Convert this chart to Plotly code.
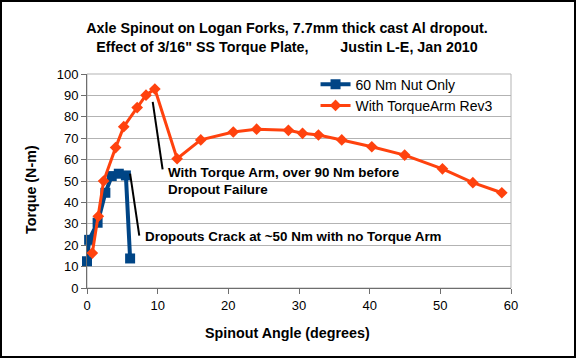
import plotly.graph_objects as go

# Data
nut_angle = [0.0, 0.3, 1.5, 2.6, 3.5, 4.5, 5.5, 6.1]
nut_torque = [12.5, 22.5, 30.5, 44.5, 52.3, 53.4, 52.6, 13.8]

arm_angle = [0.75, 1.6, 2.35, 4.05, 5.2, 7.1, 8.35, 9.6, 12.75, 16.1, 20.7, 24.0,
             28.5, 30.5, 32.75, 36.05, 40.3, 44.95, 50.3, 54.6, 58.7]
arm_torque = [16.3, 33.5, 50.0, 65.6, 75.4, 84.3, 90.1, 93.0, 60.4, 69.2, 72.9, 74.2,
              73.7, 72.3, 71.5, 69.2, 66.0, 62.1, 55.7, 49.2, 44.5]

series_names = ["60 Nm Nut Only", "With TorqueArm Rev3"]
x_ticks = [0, 10, 20, 30, 40, 50, 60]
y_ticks = [0, 10, 20, 30, 40, 50, 60, 70, 80, 90, 100]

title_lines = ["Axle Spinout on Logan Forks, 7.7mm thick cast Al dropout.",
               "Effect of 3/16\" SS Torque Plate,        Justin L-E, Jan 2010"]
x_title = "Spinout Angle (degrees)"
y_title = "Torque (N-m)"
note_arm = "With Torque Arm, over 90 Nm before<br>Dropout Failure"
note_nut = "Dropouts Crack at ~50 Nm with no Torque Arm"

W, H = 577, 359
ML, MR, MT, MB = 87, 66, 74, 71
PW, PH = W - ML - MR, H - MT - MB

FONT = "Liberation Sans, Arial, sans-serif"
BLUE = "#004586"
ORANGE = "#FF420E"
TF = 14.3

fig = go.Figure()
fig.add_trace(go.Scatter(
    x=nut_angle, y=nut_torque, name=series_names[0], mode="lines+markers",
    line=dict(color=BLUE, width=4), cliponaxis=False,
    marker=dict(symbol="square", size=10, color=BLUE)))
fig.add_trace(go.Scatter(
    x=arm_angle, y=arm_torque, name=series_names[1], mode="lines+markers",
    line=dict(color=ORANGE, width=3), cliponaxis=False,
    marker=dict(symbol="diamond", size=9, color=ORANGE)))

# pointer lines for notes
fig.add_shape(type="line", x0=9.3, y0=87, x1=10.7, y1=55.4,
              line=dict(color="black", width=2))
fig.add_shape(type="line", x0=6.1, y0=53.4, x1=7.4, y1=24.5,
              line=dict(color="black", width=2))

fig.add_annotation(x=11.2, y=50, text="<b>" + note_arm + "</b>", showarrow=False,
                   xanchor="left", yanchor="middle", align="left",
                   font=dict(family=FONT, size=13.4, color="black"))
fig.add_annotation(x=7.9, y=24, text="<b>" + note_nut + "</b>", showarrow=False,
                   xanchor="left", yanchor="middle", align="left",
                   font=dict(family=FONT, size=13.4, color="black"))

# plot area border
fig.add_shape(type="rect", xref="paper", yref="paper", x0=0, y0=0, x1=1, y1=1,
              line=dict(color="#B3B3B3", width=1), layer="below")
# outer chart frame
fig.add_shape(type="rect", xref="paper", yref="paper",
              x0=(1 - ML) / PW, x1=(W - 2 - ML) / PW,
              y0=-(H - 2 - MT - PH) / PH, y1=1 + (MT - 1) / PH,
              line=dict(color="black", width=2))

# axis titles as annotations (centred like the reference)
fig.add_annotation(xref="paper", yref="paper", x=(31 - ML) / PW, y=(288 - 190) / PH,
                   xanchor="center", yanchor="middle",
                   text="<b>" + y_title + "</b>", showarrow=False, textangle=-90,
                   font=dict(family=FONT, size=TF, color="black"))
fig.add_annotation(xref="paper", yref="paper", x=(287 - ML) / PW, y=-(333 - 288) / PH,
                   xanchor="center", yanchor="middle",
                   text="<b>" + x_title + "</b>", showarrow=False,
                   font=dict(family=FONT, size=TF, color="black"))

fig.update_layout(
    width=W, height=H,
    margin=dict(l=ML, r=MR, t=MT, b=MB),
    paper_bgcolor="white", plot_bgcolor="white",
    font=dict(family=FONT, size=13, color="black"),
    title=dict(text="<b>" + title_lines[0] + "<br>" + title_lines[1] + "</b>",
               x=287 / W, xref="container", xanchor="center",
               y=1 - 33 / H, yref="container", yanchor="middle",
               font=dict(family=FONT, size=TF, color="black")),
    showlegend=True,
    legend=dict(x=0.539, y=1.025, xanchor="left", yanchor="top",
                bgcolor="rgba(0,0,0,0)", borderwidth=0,
                font=dict(family=FONT, size=14, color="black"),
                itemwidth=30, tracegroupgap=0),
    xaxis=dict(range=[0, 60], tickvals=x_ticks, showgrid=False, zeroline=False,
               showline=True, linecolor="#6E6E6E", linewidth=1,
               ticks="outside", ticklen=5, tickcolor="#6E6E6E"),
    yaxis=dict(range=[0, 100], tickvals=y_ticks, showgrid=True, gridcolor="#B3B3B3",
               gridwidth=1, zeroline=False,
               showline=True, linecolor="#6E6E6E", linewidth=1,
               ticks="outside", ticklen=5, tickcolor="#6E6E6E"),
)

fig.write_html("out.html", config={"displayModeBar": False},
               post_script="document.body.style.margin='0';")
